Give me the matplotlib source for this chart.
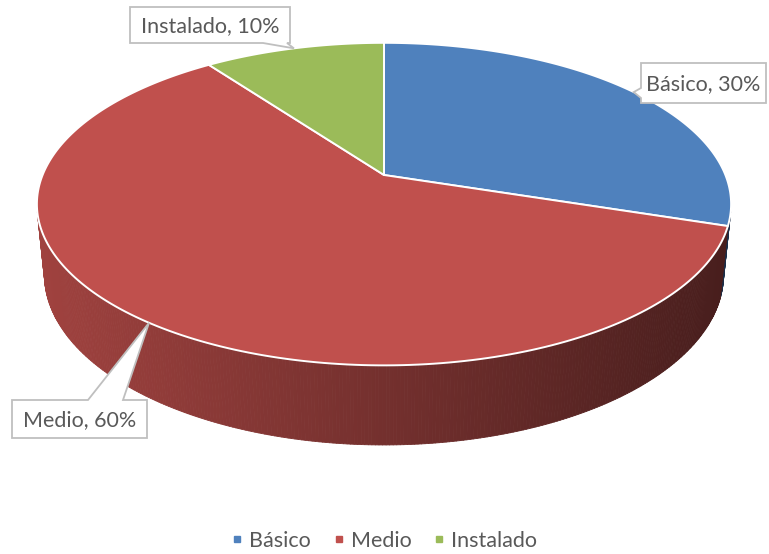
import numpy as np
import matplotlib
matplotlib.use("Agg")
import matplotlib.pyplot as plt
from matplotlib.collections import PolyCollection
from matplotlib.patches import Polygon
from matplotlib.lines import Line2D

# ---- data ----
categories = ["Básico", "Medio", "Instalado"]
values = [30, 60, 10]
label_texts = ["Básico, 30%", "Medio, 60%", "Instalado, 10%"]
top_colors = ["#4F81BD", "#C0504D", "#9BBB59"]
wall_left = [(60, 98, 145), (160, 66, 63), (118, 143, 68)]
wall_right = [(28, 46, 72), (72, 30, 29), (58, 72, 34)]

plt.rcParams['font.family'] = ['Lato', 'DejaVu Sans']

W, H = 769, 554
fig = plt.figure(figsize=(W / 100, H / 100), dpi=100)
ax = fig.add_axes([0, 0, 1, 1])
ax.set_xlim(0, W)
ax.set_ylim(H, 0)
ax.axis("off")

# ---- projection of a tilted disk (perspective) ----
cx, cy = 384, 175
f, D = 1690.0, 4.95
s, c = 0.457, 0.893
h = 0.233


def proj(theta_deg, z=0.0, r=1.0):
    t = np.radians(theta_deg)
    x = r * np.cos(t)
    y = r * np.sin(t)
    u = x
    v = y * s + z * c
    w = D + y * c - z * s
    return cx + f * u / w, cy - f * v / w


# slice angular ranges: start at 12 o'clock, clockwise
total = float(sum(values))
starts, ends = [], []
a = 90.0
for v in values:
    sweep = 360.0 * v / total
    starts.append(a - sweep)
    ends.append(a)
    a -= sweep

# silhouette of the visible front wall
sil = np.degrees(np.arcsin(-1.0 / (D * c)))  # negative
front_lo = 180.0 - sil
front_hi = 360.0 + sil
xl, xr = 38.0, 729.0

for i in range(len(values)):
    lo, hi = starts[i], ends[i]
    for shift in (-360, 0, 360):
        a0 = max(lo + shift, front_lo)
        a1 = min(hi + shift, front_hi)
        if a1 <= a0:
            continue
        n = max(2, int((a1 - a0) * 2))
        th = np.linspace(a0, a1, n + 1)
        polys, cols = [], []
        for k in range(n):
            p1 = proj(th[k], 0)
            p2 = proj(th[k + 1], 0)
            p3 = proj(th[k + 1], -h)
            p4 = proj(th[k], -h)
            polys.append([p1, p2, p3, p4])
            xm = (p1[0] + p2[0]) / 2
            tt = np.clip((xm - xl) / (xr - xl), 0, 1)
            col = [(wall_left[i][j] * (1 - tt) + wall_right[i][j] * tt) / 255 for j in range(3)]
            cols.append(col)
        pc = PolyCollection(polys, facecolors=cols, edgecolors=cols, linewidths=0.6, zorder=2)
        ax.add_collection(pc)

# top faces
for i in range(len(values)):
    th = np.linspace(starts[i], ends[i], 200)
    pts = [proj(0, 0, 0)] + [proj(t, 0) for t in th]
    ax.add_patch(Polygon(pts, closed=True, facecolor=top_colors[i], edgecolor="white",
                         linewidth=1.4, joinstyle="round", zorder=3))

# callout labels
boxes = [(641, 63, 766, 103), (12, 400, 147, 438), (130, 7, 290, 43)]
sides = ["left", "top", "bottom"]
bases = [(88, 98), (88, 123), (263, 287)]
for i in range(len(values)):
    mid = (starts[i] + ends[i]) / 2
    tip = proj(mid, 0)
    x0, y0, x1, y1 = boxes[i]
    b1, b2 = bases[i]
    if sides[i] == "left":
        pts = [(x0, y0), (x1, y0), (x1, y1), (x0, y1), (x0, b2), tip, (x0, b1)]
    elif sides[i] == "top":
        pts = [(x0, y0), (b1, y0), tip, (b2, y0), (x1, y0), (x1, y1), (x0, y1)]
    else:
        pts = [(x0, y0), (x1, y0), (x1, y1), (b2, y1), tip, (b1, y1), (x0, y1)]
    ax.add_patch(Polygon(pts, closed=True, facecolor="white", edgecolor="#BFBFBF",
                         linewidth=1.3, zorder=5))
    ax.text((x0 + x1) / 2, (y0 + y1) / 2 + 1, label_texts[i], ha="center", va="center",
            fontsize=15.5, color="#595959", zorder=6)

handles = [Line2D([], [], marker="s", linestyle="none", markersize=5,
                  markerfacecolor=top_colors[i], markeredgecolor=top_colors[i])
           for i in range(len(values))]
ax.legend(handles, categories, loc="lower center", bbox_to_anchor=(0.5, -0.01),
          ncol=3, frameon=False, handlelength=0.5, handletextpad=0.3,
          columnspacing=1.05, borderaxespad=0.0, prop={"size": 15.5},
          labelcolor="#595959")

fig.savefig("out.png", dpi=100)
